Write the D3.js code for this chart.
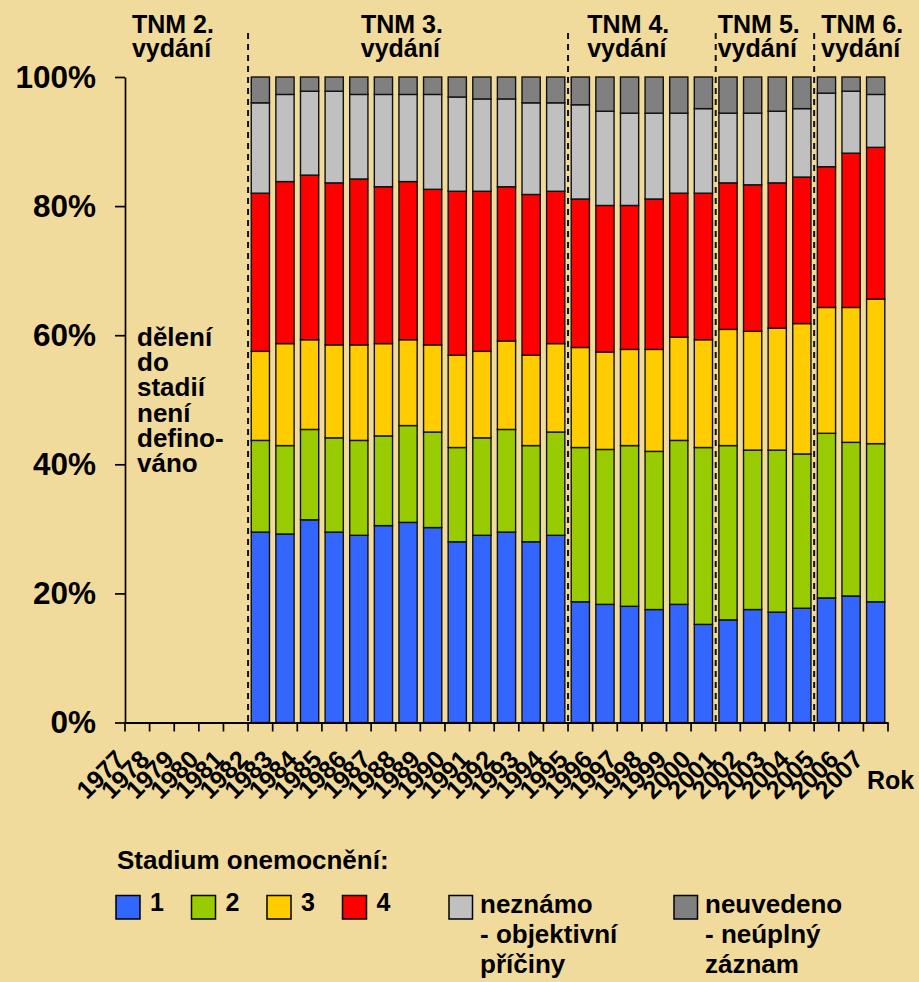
<!DOCTYPE html>
<html><head><meta charset="utf-8">
<script src="https://cdn.jsdelivr.net/npm/d3@7"></script>
<style>
html,body{margin:0;padding:0;background:#F0DA9C;}
svg{display:block;font-family:"Liberation Sans",Arial,Helvetica,sans-serif;font-weight:bold;}
</style></head><body>
<svg id="chart" width="919" height="982"></svg>
<script>
// ---- DATA ----
const years = ["1977","1978","1979","1980","1981","1982","1983","1984","1985","1986","1987","1988","1989","1990","1991","1992","1993","1994","1995","1996","1997","1998","1999","2000","2001","2002","2003","2004","2005","2006","2007"];
const stage1 = [null,null,null,null,null, 29.5,29.2,31.4,29.5,29.0,30.5,31.0,30.2,28.0,29.0,29.5,28.0,29.0, 18.7,18.3,18.0,17.5,18.3,15.2, 15.9,17.5,17.1,17.7, 19.3,19.6,18.7];
const stage2 = [null,null,null,null,null, 14.2,13.7,14.0,14.6,14.7,13.9,15.0,14.8,14.6,15.1,15.9,14.9,16.0, 23.9,24.0,24.9,24.5,25.4,27.4, 27.0,24.7,25.1,23.9, 25.5,23.8,24.5];
const stage3 = [null,null,null,null,null, 13.8,15.8,13.9,14.4,14.8,14.3,13.3,13.5,14.3,13.4,13.7,14.0,13.7, 15.5,15.1,14.9,15.8,16.0,16.7, 18.0,18.4,18.9,20.2, 19.5,20.9,22.4];
const stage4 = [null,null,null,null,null, 24.5,25.1,25.5,25.1,25.7,24.3,24.5,24.1,25.4,24.8,23.9,24.9,23.6, 23.0,22.7,22.3,23.3,22.3,22.7, 22.7,22.7,22.5,22.7, 21.8,23.9,23.5];
const unknown = [null,null,null,null,null, 14.0,13.5,13.0,14.2,13.1,14.3,13.5,14.7,14.6,14.3,13.6,14.2,13.7, 14.6,14.6,14.3,13.3,12.4,13.1, 10.8,11.1,11.1,10.6, 11.4,9.6,8.2];
const notStated = [null,null,null,null,null, 4.0,2.7,2.2,2.2,2.7,2.7,2.7,2.7,3.1,3.4,3.4,4.0,4.0, 4.3,5.3,5.6,5.6,5.6,4.9, 5.6,5.6,5.3,4.9, 2.5,2.2,2.7];
const seriesKeys = ["s1","s2","s3","s4","unk","nv"];
const seriesColors = ["#3366FF","#99CC00","#FFCC00","#FF0000","#C0C0C0","#808080"];
const yTicks = [0,0.2,0.4,0.6,0.8,1];
const editionNames = ["TNM 2.","TNM 3.","TNM 4.","TNM 5.","TNM 6."];
const editionSubtitle = "vydání";
const editionStartYears = ["1982","1995","2001","2005"]; // dashed separators
const noteLines = ["dělení","do","stadií","není","defino-","váno"];
const axisTitleX = "Rok";
const legendTitle = "Stadium onemocnění:";
const legendStageLabels = ["1","2","3","4"];
const legendOtherLabels = [["neznámo","- objektivní","příčiny"],["neuvedeno","- neúplný","záznam"]];

// ---- LAYOUT ----
const W = 919, H = 982;
const x0 = 125, x1 = 888, yTop = 77, yBot = 722.5;
const svg = d3.select("#chart");
svg.append("rect").attr("width", W).attr("height", H).attr("fill", "#F0DA9C");

const x = d3.scaleBand().domain(years).range([x0, x1]).paddingInner(0.26).paddingOuter(0.13);
const y = d3.scaleLinear().domain([0, 1]).range([yBot, yTop]);
const step = x.step();
const boundary = d => x(d) - step * x.paddingInner() / 2;

const rows = years.map((yr, i) => ({year: yr, s1: stage1[i], s2: stage2[i], s3: stage3[i], s4: stage4[i], unk: unknown[i], nv: notStated[i]}))
  .filter(r => r.s1 !== null);
const stacked = d3.stack().keys(seriesKeys).offset(d3.stackOffsetExpand)(rows);

// dashed separators
svg.append("g").selectAll("line").data(editionStartYears).join("line")
  .attr("x1", d => boundary(d)).attr("x2", d => boundary(d))
  .attr("y1", 33).attr("y2", yBot)
  .attr("stroke", "#111").attr("stroke-width", 2).attr("stroke-dasharray", "6,5");

// bars
const color = d3.scaleOrdinal().domain(seriesKeys).range(seriesColors);
svg.append("g").selectAll("g").data(stacked).join("g")
  .attr("fill", d => color(d.key))
  .selectAll("rect").data(d => d).join("rect")
  .attr("x", d => x(d.data.year))
  .attr("width", x.bandwidth())
  .attr("y", d => y(d[1]))
  .attr("height", d => y(d[0]) - y(d[1]))
  .attr("stroke", "#111").attr("stroke-width", 1.4);

// y axis
const yAxis = svg.append("g").attr("transform", `translate(${x0},0)`)
  .call(d3.axisLeft(y).tickValues(yTicks).tickFormat(d3.format(".0%")).tickSize(10).tickSizeOuter(0).tickPadding(19));
yAxis.selectAll("path,line").attr("stroke", "#000").attr("stroke-width", 1.7);
yAxis.selectAll("text").attr("font-size", 31.5).attr("font-weight", "bold").attr("fill", "#000")
  .attr("font-family", '"Liberation Sans",Arial,sans-serif');

// x axis line and boundary ticks
const xAxis = svg.append("g").attr("transform", `translate(0,${yBot})`)
  .call(d3.axisBottom(x).tickSize(0).tickSizeOuter(0).tickFormat(""));
xAxis.select("path").attr("stroke", "#000").attr("stroke-width", 2);
const bounds = years.map(boundary).concat([x1]);
svg.append("g").selectAll("line").data(bounds).join("line")
  .attr("x1", d => d).attr("x2", d => d).attr("y1", yBot).attr("y2", yBot + 9)
  .attr("stroke", "#000").attr("stroke-width", 1.7);

// year labels
svg.append("g").selectAll("text").data(years).join("text")
  .attr("transform", d => `translate(${x(d) + x.bandwidth() / 2 - 11},761) rotate(-45)`)
  .attr("text-anchor", "end").attr("font-size", 25).attr("fill", "#000")
  .text(d => d);

svg.append("text").attr("x", 867).attr("y", 789).attr("font-size", 25).text(axisTitleX);

// edition labels
const editionIdx = [1.95, 11.25, 20.45, 25.75, 29.95];
const edG = svg.append("g").attr("text-anchor", "middle").attr("font-size", 25);
editionNames.forEach((n, i) => {
  const cx = x0 + editionIdx[i] * step;
  edG.append("text").attr("x", cx).attr("y", 33).text(n);
  edG.append("text").attr("x", cx - 1.5).attr("y", 56.5).text(editionSubtitle);
});

// note in empty region
svg.append("g").selectAll("text").data(noteLines).join("text")
  .attr("x", 137).attr("y", (d, i) => 345.7 + i * 25.3).attr("font-size", 26).text(d => d);

// legend
svg.append("text").attr("x", 117).attr("y", 869).attr("font-size", 26).text(legendTitle);
const lg = svg.append("g");
legendStageLabels.forEach((t, i) => {
  const lx = 116 + i * 75.5;
  lg.append("rect").attr("x", lx).attr("y", 895.5).attr("width", 24).attr("height", 23.5)
    .attr("fill", seriesColors[i]).attr("stroke", "#000").attr("stroke-width", 1.5);
  lg.append("text").attr("x", lx + 34).attr("y", 911).attr("font-size", 25).text(t);
});
legendOtherLabels.forEach((lines, i) => {
  const lx = 449 + i * 225;
  lg.append("rect").attr("x", lx).attr("y", 895.5).attr("width", 23.5).attr("height", 23.5)
    .attr("fill", seriesColors[4 + i]).attr("stroke", "#000").attr("stroke-width", 1.5);
  lines.forEach((t, j) => {
    lg.append("text").attr("x", lx + 31).attr("y", 913.3 + j * 30).attr("font-size", 26).text(t);
  });
});
</script>
</body></html>
